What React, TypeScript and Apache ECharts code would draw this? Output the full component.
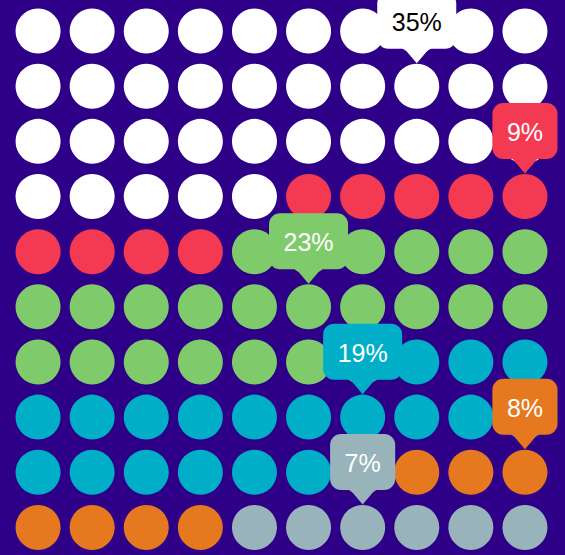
import React, { useEffect, useRef } from "react";
import * as echarts from "echarts";

const categories = ["A", "B", "C", "D", "E", "F"];
const circleCounts = [35, 9, 23, 19, 8, 6];
const percentLabels = ["35%", "9%", "23%", "19%", "8%", "7%"];
const colors = ["#FFFFFF", "#F43A52", "#7FCB6B", "#00AEC8", "#E67920", "#98B3B9"];
const labelTextColors = ["#000000", "#FFFFFF", "#FFFFFF", "#FFFFFF", "#FFFFFF", "#FFFFFF"];
const COLS = 10;
const FONT = "25px 'Liberation Sans', Arial, sans-serif";

function measure(text: string): number {
  const c = document.createElement("canvas").getContext("2d");
  if (!c) return text.length * 15;
  c.font = FONT;
  return c.measureText(text).width;
}

export default function App() {
  const ref = useRef<HTMLDivElement>(null);
  useEffect(() => {
    if (!ref.current) return;
    const chart = echarts.init(ref.current, undefined, { renderer: "svg" });

    const cells: number[][] = [];
    const callouts: any[] = [];
    let idx = 0;
    circleCounts.forEach((n, g) => {
      const start = idx;
      for (let k = 0; k < n; k++) {
        cells.push([idx % COLS, Math.floor(idx / COLS), g]);
        idx++;
      }
      const mid = Math.floor((start + idx - 1) / 2);
      callouts.push({ value: [mid % COLS, Math.floor(mid / COLS), g], name: categories[g] });
    });

    const R = 22.5;
    const widths = percentLabels.map((t) => measure(t));

    chart.setOption({
      animation: false,
      backgroundColor: "#2E0087",
      grid: { left: 11, top: 3.5, width: 541, height: 560 },
      xAxis: { type: "value", min: -0.5, max: 9.5, show: false },
      yAxis: { type: "value", min: -0.5, max: 9.5, inverse: true, show: false },
      series: [
        {
          type: "custom",
          data: cells,
          renderItem: (params: any, api: any) => {
            const p = api.coord([api.value(0), api.value(1)]);
            const g = api.value(2);
            return {
              type: "circle",
              shape: { cx: p[0], cy: p[1], r: R },
              style: { fill: colors[g] },
            };
          },
        },
        {
          type: "custom",
          data: callouts,
          z: 5,
          renderItem: (params: any, api: any) => {
            const p = api.coord([api.value(0), api.value(1)]);
            const g = api.value(2);
            const tipY = p[1] - R - 0.5;
            const boxBottom = tipY - 14.5;
            const boxH = 56;
            const boxW = widths[g] + 29;
            const boxTop = boxBottom - boxH;
            return {
              type: "group",
              children: [
                {
                  type: "rect",
                  shape: { x: p[0] - boxW / 2, y: boxTop, width: boxW, height: boxH, r: 11 },
                  style: { fill: colors[g] },
                },
                {
                  type: "polygon",
                  shape: {
                    points: [
                      [p[0] - 14, boxBottom - 2],
                      [p[0] + 14, boxBottom - 2],
                      [p[0], tipY],
                    ],
                  },
                  style: { fill: colors[g] },
                },
                {
                  type: "text",
                  x: p[0],
                  y: boxTop + boxH / 2 + 1,
                  style: {
                    text: percentLabels[g],
                    fill: labelTextColors[g],
                    font: FONT,
                    align: "center",
                    verticalAlign: "middle",
                  },
                },
              ],
            };
          },
        },
      ],
    });
    return () => chart.dispose();
  }, []);
  return (
    <div
      ref={ref}
      style={{ position: "absolute", left: 0, top: 0, width: 565, height: 555 }}
    />
  );
}
